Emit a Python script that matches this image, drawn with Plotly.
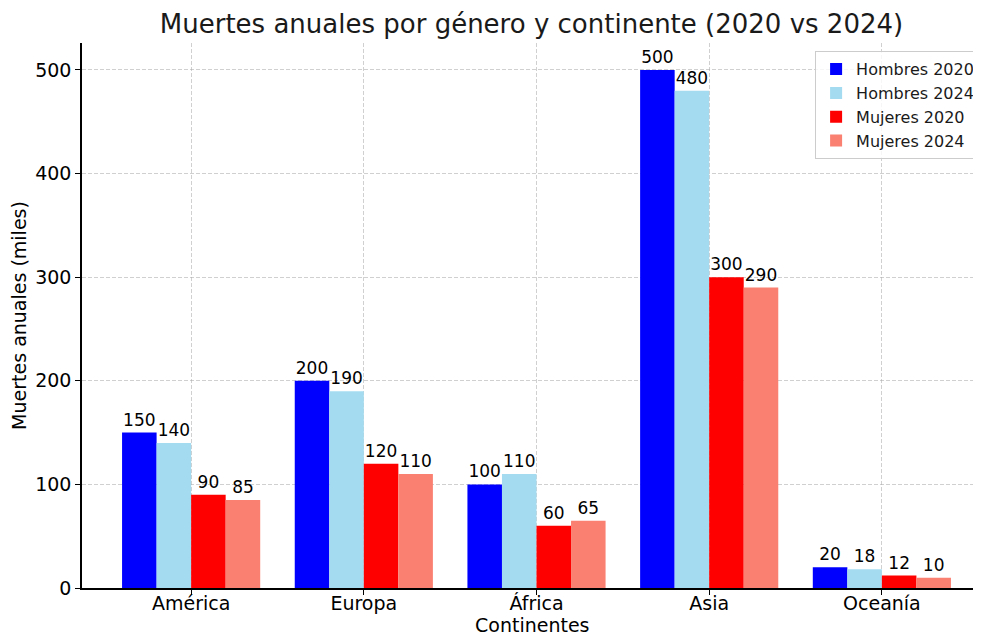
import plotly.graph_objects as go

continentes = ["América", "Europa", "África", "Asia", "Oceanía"]
hombres_2020 = [150, 200, 100, 500, 20]
hombres_2024 = [140, 190, 110, 480, 18]
mujeres_2020 = [90, 120, 60, 300, 12]
mujeres_2024 = [85, 110, 65, 290, 10]

series = [
    ("Hombres 2020", hombres_2020, "#0000FF"),
    ("Hombres 2024", hombres_2024, "#A4DBF0"),
    ("Mujeres 2020", mujeres_2020, "#FF0000"),
    ("Mujeres 2024", mujeres_2024, "#FA8072"),
]

FONT = "DejaVu Sans"
fig = go.Figure()
for name, vals, col in series:
    fig.add_trace(go.Bar(
        x=continentes, y=vals, name=name, marker_color=col,
        marker_line_width=0,
        text=[str(v) for v in vals], textposition="outside",
        textfont=dict(family=FONT, size=17, color="black"),
        cliponaxis=False,
    ))

GRID = "rgba(170,170,170,0.55)"
fig.update_layout(
    width=981, height=637,
    paper_bgcolor="white", plot_bgcolor="white",
    barmode="group", bargap=0.2, bargroupgap=0,
    margin=dict(l=74, r=8, t=35, b=57, autoexpand=False),
    font=dict(family=FONT, color="black"),
    title=dict(text="Muertes anuales por género y continente (2020 vs 2024)",
               x=0.5, xanchor="center", xref="paper", y=0.975, yanchor="middle",
               font=dict(family=FONT, size=26, color="#1a1a1a")),
    showlegend=True,
    legend=dict(x=0.999, xanchor="right", y=0.985, yanchor="top",
                bordercolor="#cccccc", borderwidth=1, bgcolor="rgba(255,255,255,0.8)",
                font=dict(family=FONT, size=16, color="#1a1a1a"),
                tracegroupgap=0, itemwidth=30),
    annotations=[dict(text="Continentes", xref="paper", yref="paper",
                      x=0.5, y=-0.068, xanchor="center", yanchor="middle",
                      showarrow=False, font=dict(family=FONT, size=19, color="black"))],
)
fig.update_xaxes(
    range=[-0.632, 4.574],
    tickfont=dict(family=FONT, size=19),
    ticklabelstandoff=-8,
    showline=True, linecolor="black", linewidth=1.5,
    ticks="outside", ticklen=5, tickcolor="black",
    showgrid=True, gridcolor=GRID, griddash="4px,2px", gridwidth=1,
    layer="above traces",
)
fig.update_yaxes(
    range=[0, 526],
    tickvals=[0, 100, 200, 300, 400, 500],
    title=dict(text="Muertes anuales (miles)", font=dict(family=FONT, size=19), standoff=10),
    tickfont=dict(family=FONT, size=19),
    showline=True, linecolor="black", linewidth=1.5,
    ticks="outside", ticklen=5, tickcolor="black",
    showgrid=True, gridcolor=GRID, griddash="4px,2px", gridwidth=1,
    zeroline=False, layer="above traces",
)

fig.write_html("out.html")
